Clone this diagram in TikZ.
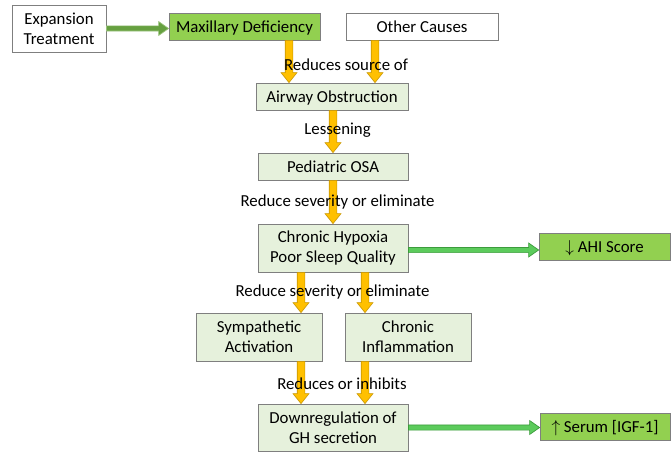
\documentclass[tikz,border=0pt]{standalone}
\usepackage{fontspec}
\setmainfont{Carlito}
\usetikzlibrary{calc}

\definecolor{boxline}{HTML}{7F7F7F}
\definecolor{palegreen}{HTML}{E6F1DC}
\definecolor{leafgreen}{HTML}{92D050}
\definecolor{amber}{HTML}{FFC000}
\definecolor{amberedge}{HTML}{C89600}
\definecolor{mossgreen}{HTML}{66A040}
\definecolor{mossedge}{HTML}{9CC47E}
\definecolor{brightgreen}{HTML}{5CCB5C}
\definecolor{brightedge}{HTML}{3C9C3C}

\tikzset{
  x=1pt, y=-1pt,
  every node/.style={font=\fontsize{16.8}{19.8}\selectfont, align=center, inner sep=0pt},
  oneline/.style={text height=13.4pt, text depth=1pt},
  plainbox/.style={draw=boxline, line width=0.8pt, fill=white},
  lightbox/.style={draw=boxline, line width=0.8pt, fill=palegreen},
  darkbox/.style={draw=boxline, line width=0.8pt, fill=leafgreen},
  % downward block arrow: only the start x and the target y are used
  downarrow/.style={draw=amberedge, fill=amber, line width=0.6pt,
    to path={let \p1=(\tikztostart), \p2=(\tikztotarget) in
      (\x1-3.8pt,\y1) -- (\x1-3.8pt,\y2+10pt) -- (\x1-8pt,\y2+10pt) -- (\x1,\y2)
      -- (\x1+8pt,\y2+10pt) -- (\x1+3.8pt,\y2+10pt) -- (\x1+3.8pt,\y1) -- cycle}},
  % rightward block arrow: only the start y and the target x are used
  rightarrow/.style={line width=0.7pt,
    to path={let \p1=(\tikztostart), \p2=(\tikztotarget) in
      (\x1,\y1+2.6pt) -- (\x2-10pt,\y1+2.6pt) -- (\x2-10pt,\y1+7pt) -- (\x2,\y1)
      -- (\x2-10pt,\y1-7pt) -- (\x2-10pt,\y1-2.6pt) -- (\x1,\y1-2.6pt) -- cycle}},
  mossarrow/.style={rightarrow, draw=mossedge, fill=mossgreen},
  brightarrow/.style={rightarrow, draw=brightedge, fill=brightgreen},
}

\begin{document}
\begin{tikzpicture}
\useasboundingbox (0,0) rectangle (671,452);

% boxes
\node[plainbox, minimum width=94pt, minimum height=47pt] (exp) at (59,28.5) {Expansion\\Treatment};
\node[darkbox, oneline, minimum width=151pt, minimum height=27pt] (max) at (244.5,26.5) {Maxillary Deficiency};
\node[plainbox, oneline, minimum width=152pt, minimum height=27pt] (oth) at (422,26.5) {Other Causes};
\node[lightbox, oneline, minimum width=152pt, minimum height=27pt] (air) at (332,96.5) {Airway Obstruction};
\node[lightbox, oneline, minimum width=150pt, minimum height=27pt] (osa) at (333,166.5) {Pediatric OSA};
\node[lightbox, minimum width=150pt, minimum height=48pt] (hyp) at (333,248) {Chronic Hypoxia\\Poor Sleep Quality};
\node[lightbox, minimum width=126pt, minimum height=48pt] (symp) at (259,337) {Sympathetic\\Activation};
\node[lightbox, minimum width=126pt, minimum height=48pt] (infl) at (408,337) {Chronic\\Inflammation};
\node[lightbox, minimum width=150pt, minimum height=47pt] (down) at (333,427.5) {Downregulation of\\GH secretion};
\node[darkbox, oneline, minimum width=131pt, minimum height=27pt] (ahi) at (604.5,246.5) {$\downarrow$ AHI Score};
\node[darkbox, oneline, minimum width=130pt, minimum height=27pt] (igf) at (605,426.5) {$\uparrow$ Serum [IGF-1]};

% connectors
\draw[mossarrow] (exp.east) to (max.west);
\draw[downarrow] ([xshift=44.5pt]max.south) to (air.north);
\draw[downarrow] ([xshift=-47pt]oth.south) to (air.north);
\draw[downarrow] ([xshift=1pt]air.south) to (osa.north);
\draw[downarrow] (osa.south) to (hyp.north);
\draw[downarrow] ([xshift=-32pt]hyp.south) to (symp.north);
\draw[downarrow] ([xshift=32pt]hyp.south) to (infl.north);
\draw[downarrow] ([xshift=42pt]symp.south) to (down.north);
\draw[downarrow] ([xshift=-43pt]infl.south) to (down.north);
\draw[brightarrow] ([yshift=-2pt]hyp.east) to (ahi.west);
\draw[brightarrow] (down.east) to (igf.west);

% connector labels
\node (l1) at (346,64.5) {Reduces source of};
\node (l2) at (337.5,130.5) {Lessening};
\node (l3) at (337.5,202.5) {Reduce severity or eliminate};
\node (l4) at (332.5,292.5) {Reduce severity or eliminate};
\node (l5) at (342,383.5) {Reduces or inhibits};
\end{tikzpicture}
\end{document}
